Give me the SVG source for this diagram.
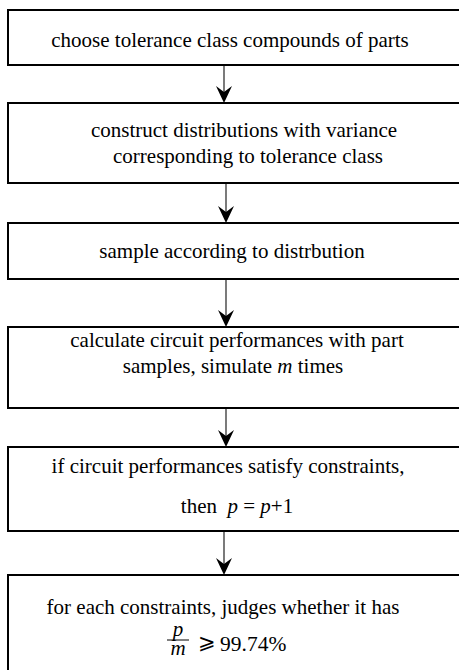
<svg xmlns="http://www.w3.org/2000/svg" width="459" height="670" viewBox="0 0 459 670">
  <style>
    .box { fill: #ffffff; stroke: #000000; stroke-width: 2; }
    .lbl { font-size: 21px; fill: #000000; text-anchor: middle; }
    .var { font-style: italic; }
    .conn { stroke: #333333; stroke-width: 1.3; fill: none; }
    .head { fill: #000000; stroke: none; }
  </style>
  <defs>
    <path id="arrowhead" class="head" d="M0,0 L-8,-17 L0,-11 L8,-17 Z"/>
  </defs>
  <rect width="459" height="670" fill="#ffffff"/>

  <g id="connectors">
    <line class="conn" x1="224" y1="65" x2="224" y2="95"/>
    <use href="#arrowhead" x="224" y="103"/>
    <line class="conn" x1="226" y1="183" x2="226" y2="215"/>
    <use href="#arrowhead" x="226" y="223"/>
    <line class="conn" x1="226" y1="279" x2="226" y2="319"/>
    <use href="#arrowhead" x="226" y="327"/>
    <line class="conn" x1="226" y1="408" x2="226" y2="439"/>
    <use href="#arrowhead" x="226" y="447"/>
    <line class="conn" x1="224" y1="531" x2="224" y2="567"/>
    <use href="#arrowhead" x="224" y="575"/>
  </g>

  <g font-family="Liberation Serif, Tinos, Times New Roman, DejaVu Serif, serif">
    <g id="node-choose">
      <rect class="box" x="8" y="10" width="470" height="55"/>
      <text class="lbl" x="230" y="47">choose tolerance class compounds of parts</text>
    </g>

    <g id="node-construct">
      <rect class="box" x="8" y="103" width="470" height="80"/>
      <text class="lbl" x="244" y="137">construct distributions with variance</text>
      <text class="lbl" x="248" y="163">corresponding to tolerance class</text>
    </g>

    <g id="node-sample">
      <rect class="box" x="8" y="223" width="470" height="56"/>
      <text class="lbl" x="232" y="258">sample according to distrbution</text>
    </g>

    <g id="node-calculate">
      <rect class="box" x="8" y="327" width="470" height="81"/>
      <text class="lbl" x="237" y="347">calculate circuit performances with part</text>
      <text class="lbl" x="233" y="373">samples, simulate <tspan class="var">m</tspan> times</text>
    </g>

    <g id="node-check">
      <rect class="box" x="8" y="447" width="470" height="84"/>
      <text class="lbl" x="228" y="473">if circuit performances satisfy constraints,</text>
      <text class="lbl" x="237" y="513" xml:space="preserve">then  <tspan class="var">p</tspan> = <tspan class="var">p</tspan>+1</text>
    </g>

    <g id="node-judge">
      <rect class="box" x="8" y="575" width="470" height="110"/>
      <text class="lbl" x="223" y="614">for each constraints, judges whether it has</text>
      <!-- p / m fraction -->
      <text class="lbl var" x="178" y="636" font-size="18">p</text>
      <line x1="167" y1="640" x2="189" y2="640" stroke="#000000" stroke-width="1"/>
      <text class="lbl var" x="178" y="655" font-size="18">m</text>
      <text class="lbl" x="206.5" y="649" font-family="DejaVu Serif, serif" font-size="17">⩾</text>
      <text x="220" y="651" font-size="21.5">99.74%</text>
    </g>
  </g>
</svg>
